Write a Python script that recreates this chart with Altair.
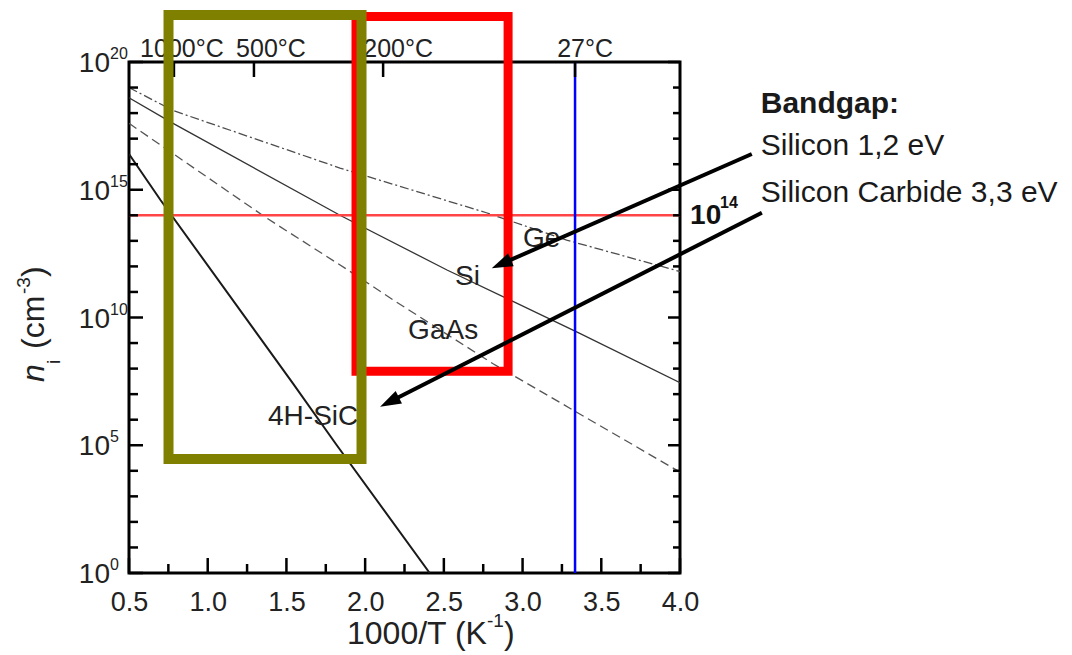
import math

import altair as alt
import pandas as pd

FONT = "Liberation Sans"
INK = "#222222"
W, H = 551, 511  # plot rectangle in pixels

# Intrinsic carrier density, sampled along 1000/T (K^-1); values are log10(n_i / cm^-3)
ge_x = [0.5, 0.78, 1.84, 2.77, 3.28, 4.0]
ge_log_ni = [19.0, 18.1, 15.85, 14.1, 13.03, 11.8]
si_x = [0.5, 0.78, 1.84, 2.52, 3.36, 4.0]
si_log_ni = [18.6, 17.6, 14.0, 11.86, 9.39, 7.45]
gaas_x = [0.5, 1.375, 1.89, 2.18, 2.81, 4.0]
gaas_log_ni = [17.6, 13.89, 11.86, 10.68, 8.2, 3.95]
sic_x = [0.5, 0.70, 1.54, 1.82, 2.41]
sic_log_ni = [16.4, 14.6, 7.43, 5.0, 0.0]

# Axis ticks
x_major = [0.5, 1.0, 1.5, 2.0, 2.5, 3.0, 3.5, 4.0]
x_minor = [0.75, 1.25, 1.75, 2.25, 2.75, 3.25, 3.75]
decades_major = [0, 5, 10, 15, 20]
decades_minor = [k for k in range(21) if k % 5]

# Temperature scale on top
temp_celsius = [1000, 500, 200, 27]
temp_labels = ["1000°C", "500°C", "200°C", "27°C"]
room_temp_c = 27
threshold_log = 14

# Highlighted operating windows: 1000/T range and log10(n_i) range
window_x = [1.942, 0.751]
window_x2 = [2.908, 1.977]
window_log = [7.9, 4.46]
window_log2 = [21.78, 21.84]
window_colors = ["#FF0000", "#808000"]
window_widths = [9, 10]

# Curve names
curve_labels = ["Ge", "Si", "GaAs", "4H-SiC"]
curve_label_x = [3.003, 2.571, 2.273, 1.383]
curve_label_log = [12.77, 11.27, 9.16, 5.79]

# Band gap notes
bandgap_lines = ["Bandgap:", "Silicon 1,2 eV", "Silicon Carbide 3,3 eV"]
bandgap_weights = ["bold", "normal", "normal"]
bandgap_x = 4.513
bandgap_log = [17.99, 16.36, 14.53]

# Arrows from the notes to the curves: start -> tip
arrow_x0 = [4.456, 4.52]
arrow_log0 = [16.40, 14.10]
arrow_x1 = [2.804, 2.095]
arrow_log1 = [11.93, 6.51]

# ---------------------------------------------------------------------------
xs = alt.Scale(domain=[0.5, 4.0], nice=False, zero=False)
ys = alt.Scale(type="log", domain=[1, 1e20], nice=False)
x_axis = alt.Axis(values=x_major, format=".1f", ticks=False, domain=False, grid=False,
                  labelFontSize=27, labelFont=FONT, labelColor=INK, labelPadding=16,
                  labelFlush=False, title=None)


def X(field="x"):
    return alt.X(f"{field}:Q", scale=xs, axis=x_axis)


def Y(field="ni"):
    return alt.Y(f"{field}:Q", scale=ys, axis=None)


def curve(xv, lv, width, color, dash=None):
    df = pd.DataFrame({"x": xv, "ni": [10 ** v for v in lv]})
    kw = dict(strokeWidth=width, color=color, clip=True)
    if dash:
        kw["strokeDash"] = dash
    return alt.Chart(df).mark_line(**kw).encode(x=X(), y=Y())


def px_text(txt, x, y, size, style="normal", weight="normal", angle=0):
    return alt.Chart(pd.DataFrame({"t": [txt]})).mark_text(
        text=txt, font=FONT, fontSize=size, fontStyle=style, fontWeight=weight,
        align="left", baseline="alphabetic", angle=angle, color=INK,
    ).encode(x=alt.value(x), y=alt.value(y))


layers = []

# curves
layers.append(curve(ge_x, ge_log_ni, 1.3, "#4d4d4d", [9, 3, 2, 3]))
layers.append(curve(si_x, si_log_ni, 1.3, "#333333"))
layers.append(curve(gaas_x, gaas_log_ni, 1.3, "#555555", [9, 5]))
layers.append(curve(sic_x, sic_log_ni, 2.0, "#1a1a1a"))

# 10^14 level and room temperature
layers.append(alt.Chart(pd.DataFrame({"ni": [10.0 ** threshold_log]}))
              .mark_rule(color="#FF4545", strokeWidth=2.5).encode(y=Y()))
layers.append(alt.Chart(pd.DataFrame({"x": [1000 / (room_temp_c + 273)]}))
              .mark_rule(color="#0000FF", strokeWidth=2.5).encode(x=X()))

# ticks (inward)
tick = dict(color="black", strokeWidth=2.5)
maj = pd.DataFrame({"ni": [10.0 ** k for k in decades_major]})
mnr = pd.DataFrame({"ni": [10.0 ** k for k in decades_minor]})
layers.append(alt.Chart(maj).mark_rule(**tick).encode(y=Y(), x=alt.value(0), x2=alt.value(14)))
layers.append(alt.Chart(mnr).mark_rule(**tick).encode(y=Y(), x=alt.value(0), x2=alt.value(9)))
layers.append(alt.Chart(maj).mark_rule(**tick).encode(y=Y(), x=alt.value(W), x2=alt.value(W - 12)))
layers.append(alt.Chart(mnr).mark_rule(**tick).encode(y=Y(), x=alt.value(W), x2=alt.value(W - 7)))
xmaj = pd.DataFrame({"x": x_major})
xmnr = pd.DataFrame({"x": x_minor})
layers.append(alt.Chart(xmaj).mark_rule(**tick).encode(x=X(), y=alt.value(H), y2=alt.value(H - 15)))
layers.append(alt.Chart(xmnr).mark_rule(**tick).encode(x=X(), y=alt.value(H), y2=alt.value(H - 9)))

temps = pd.DataFrame({"x": [1000 / (c + 273) for c in temp_celsius], "label": temp_labels})
layers.append(alt.Chart(temps).mark_rule(**tick).encode(x=X(), y=alt.value(0), y2=alt.value(15)))
# each temperature label sits a little right of its tick
for (_, row), shift in zip(temps.iterrows(), [8, 17, 15, 10]):
    layers.append(alt.Chart(pd.DataFrame([row])).mark_text(
        font=FONT, fontSize=25, color=INK, align="center", baseline="alphabetic", dx=shift)
        .encode(x=X(), y=alt.value(-5), text="label:N"))

# y tick labels 10^k
ylab = pd.DataFrame({"ni": [10.0 ** k for k in decades_major],
                     "base": ["10"] * len(decades_major),
                     "exp": [str(k) for k in decades_major]})
layers.append(alt.Chart(ylab).mark_text(font=FONT, fontSize=28, color=INK, align="right",
                                        baseline="alphabetic", dy=10)
              .encode(y=Y(), x=alt.value(-19), text="base:N"))
layers.append(alt.Chart(ylab).mark_text(font=FONT, fontSize=16, color=INK, align="left",
                                        baseline="alphabetic", dy=-3)
              .encode(y=Y(), x=alt.value(-19), text="exp:N"))

# curve names
cl = pd.DataFrame({"x": curve_label_x, "ni": [10 ** v for v in curve_label_log], "label": curve_labels})
layers.append(alt.Chart(cl).mark_text(font=FONT, fontSize=28, color=INK, align="left",
                                      baseline="alphabetic")
              .encode(x=X(), y=Y(), text="label:N"))

# 10^14 label at the right
lvl = pd.DataFrame({"x": [4.064], "ni": [10.0 ** threshold_log], "b": ["10"], "e": [str(threshold_log)]})
layers.append(alt.Chart(lvl).mark_text(font=FONT, fontSize=28, fontWeight="bold", color="#111111",
                                       align="left", baseline="alphabetic", dy=9)
              .encode(x=X(), y=Y(), text="b:N"))
layers.append(alt.Chart(lvl).mark_text(font=FONT, fontSize=16, fontWeight="bold", color="#111111",
                                       align="left", baseline="alphabetic", dx=30, dy=-7)
              .encode(x=X(), y=Y(), text="e:N"))

# band gap notes
for txt, wt, lg in zip(bandgap_lines, bandgap_weights, bandgap_log):
    d = pd.DataFrame({"x": [bandgap_x], "ni": [10 ** lg], "t": [txt]})
    layers.append(alt.Chart(d).mark_text(font=FONT, fontSize=30, fontWeight=wt, color="#1a1a1a",
                                         align="left", baseline="alphabetic")
                  .encode(x=X(), y=Y(), text="t:N"))

# highlighted windows
for x0, x1, l0, l1, c, sw in zip(window_x, window_x2, window_log, window_log2, window_colors, window_widths):
    d = pd.DataFrame({"x": [x0], "x2": [x1], "ni": [10 ** l0], "ni2": [10 ** l1]})
    layers.append(alt.Chart(d).mark_rect(fillOpacity=0, stroke=c, strokeWidth=sw, strokeJoin="miter")
                  .encode(x=X(), x2="x2:Q", y=Y(), y2="ni2:Q"))

# arrows
px_per_x = W / 3.5
px_per_dec = H / 20.0
HEAD = 18
rows = []
for x0, l0, x1, l1 in zip(arrow_x0, arrow_log0, arrow_x1, arrow_log1):
    dx = (x1 - x0) * px_per_x
    dy = -(l1 - l0) * px_per_dec
    L = math.hypot(dx, dy)
    ang = math.degrees(math.atan2(dx, -dy)) % 360
    xe = x1 - dx / L * HEAD / px_per_x
    le = l1 + dy / L * HEAD / px_per_dec
    rows.append({"x": x0, "ni": 10 ** l0, "x2": xe, "ni2": 10 ** le,
                 "xt": x1, "nt": 10 ** l1, "angle": ang})
arr = pd.DataFrame(rows)
layers.append(alt.Chart(arr).mark_rule(color="black", strokeWidth=4, strokeCap="butt")
              .encode(x=X(), y=Y(), x2="x2:Q", y2="ni2:Q"))
layers.append(alt.Chart(arr).mark_point(shape="M0,0L-0.7,2.1L0.7,2.1Z", filled=True, size=400,
                                        color="black", opacity=1, strokeWidth=0)
              .encode(x=X("xt"), y=Y("nt"), angle=alt.Angle("angle:Q", scale=None)))

# axis titles
layers.append(px_text("1000/T (K", 218, 582, 32))
layers.append(px_text("-1", 358, 565, 19))
layers.append(px_text(")", 375, 582, 32))
layers.append(px_text("n", -85, 320, 32, style="italic", angle=270))
layers.append(px_text("i", -69, 302, 19, angle=270))
layers.append(px_text("(cm", -85, 287, 32, angle=270))
layers.append(px_text("-3", -99, 232, 19, angle=270))
layers.append(px_text(")", -85, 215, 32, angle=270))

chart = alt.layer(*layers).properties(
    width=W, height=H,
    autosize=alt.AutoSizeParams(type="none"),
    padding={"left": 129, "top": 62, "right": 392, "bottom": 82},
    background="white",
).configure_view(stroke="black", strokeWidth=3)

chart.save("out.html", embed_options={"renderer": "svg", "actions": False})
